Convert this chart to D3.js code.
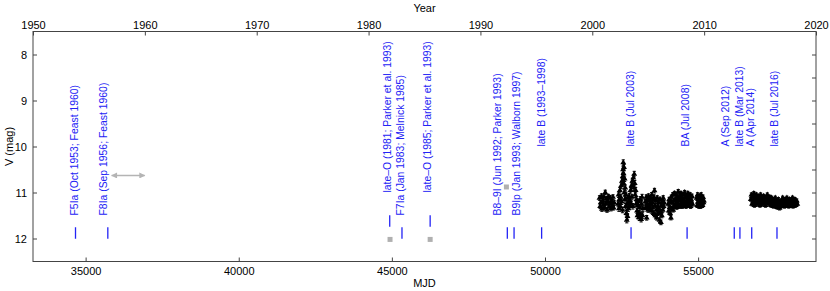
<!DOCTYPE html>
<html>
<head>
<meta charset="utf-8">
<script src="https://cdn.jsdelivr.net/npm/d3@7"></script>
<style>
  body { margin: 0; background: #fff; }
  text { font-family: "Liberation Sans", Arial, sans-serif; }
</style>
</head>
<body>
<div id="chart"></div>
<script>
// Light curve with spectral-type epochs

// spectral classifications: epoch (MJD), label, where the label sits (MJD, V)
const specMjd = [34670, 35725, 44930, 45330, 46250, 48770, 48990, 49890, 52810, 54640, 56180, 56365, 56750, 57575];
const specLabel = [
    'F5Ia (Oct 1953; Feast 1960)',
    'F8Ia (Sep 1956; Feast 1960)',
    'late\u2013O (1981; Parker et al. 1993)',
    'F7Ia (Jan 1983; Melnick 1985)',
    'late\u2013O (1985; Parker et al. 1993)',
    'B8\u20139I (Jun 1992; Parker 1993)',
    'B9Ip (Jan 1993; Walborn 1997)',
    'late B (1993\u20131998)',
    'late B (Jul 2003)',
    'BA (Jul 2008)',
    'A (Sep 2012)',
    'late B (Mar 2013)',
    'A (Apr 2014)',
    'late B (Jul 2016)'
];
const specLabelMjd = [34782, 35728, 44999, 45436, 46326, 48586, 49206, 50021, 52936, 54749, 56053, 56491, 56869, 57642];
const specLabelV = [11.5, 11.5, 11.0, 11.5, 11.0, 11.5, 11.5, 10.0, 10.0, 10.0, 10.0, 10.0, 10.0, 10.0];
const specTickV = [11.88, 11.88, 11.62, 11.88, 11.62, 11.88, 11.88, 11.88, 11.88, 11.88, 11.88, 11.88, 11.88, 11.88];

// old photographic / photoelectric magnitudes (grey squares)
const oldMjd = [44940, 46250, 48740];
const oldV = [12.02, 12.02, 10.88];

// grey range arrow
const arrowMjd = [35850, 36930];
const arrowV = 10.63;

// photometry blocks [MJD, V]
const phot1 = [
    [51780, 11.12], [51800, 11.30], [51820, 11.22], [51845, 11.08], [51860, 11.36], [51885, 11.18],
    [51905, 11.27], [51925, 11.10], [51945, 11.33], [51968, 11.00], [51985, 11.24], [52005, 11.14],
    [52025, 11.38], [52050, 11.20], [52070, 11.09], [52090, 11.31], [52110, 11.25], [52135, 11.12],
    [52155, 11.35], [52175, 11.19], [52200, 11.28], [52220, 11.10], [52240, 11.33], [52260, 11.22]
];
const phot2 = [
    [52385, 11.25], [52400, 11.05], [52415, 11.35], [52430, 11.15], [52445, 10.95], [52460, 11.30],
    [52475, 11.10], [52490, 10.85], [52505, 11.20], [52515, 10.75], [52530, 11.38], [52540, 10.65],
    [52550, 10.50], [52556, 10.35], [52562, 10.58], [52570, 10.80], [52580, 10.45], [52590, 11.00],
    [52600, 10.70], [52610, 11.15], [52620, 10.90], [52632, 11.30], [52645, 11.05], [52658, 11.45],
    [52670, 11.60], [52682, 11.25], [52695, 11.52], [52708, 11.12], [52720, 11.35], [52735, 11.20],
    [52750, 11.08], [52765, 11.30], [52780, 11.18], [52795, 10.95], [52810, 11.25], [52825, 10.85],
    [52840, 11.10], [52855, 10.75], [52870, 11.30], [52885, 10.68], [52900, 10.90], [52915, 10.60],
    [52930, 10.80], [52945, 11.05], [52960, 10.95], [52975, 11.25], [52990, 11.15], [53005, 11.40],
    [53020, 11.50], [53035, 11.28], [53050, 11.20], [53065, 11.45], [53080, 11.55], [53095, 11.32],
    [53110, 11.15], [53125, 11.48], [53140, 11.58], [53155, 11.25], [53170, 11.10], [53185, 11.50],
    [53197, 11.35]
];
const phot3 = [
    [53275, 11.20], [53290, 11.32], [53305, 11.10], [53320, 11.55], [53335, 11.25], [53350, 11.15],
    [53365, 11.38], [53380, 11.08], [53395, 11.28], [53410, 11.18], [53425, 11.35], [53440, 11.12],
    [53455, 11.25], [53470, 11.40], [53485, 11.05], [53500, 11.22], [53515, 11.33], [53530, 11.15],
    [53545, 11.45], [53560, 11.10], [53575, 10.96], [53590, 11.28], [53605, 11.50], [53620, 11.18],
    [53635, 11.38], [53650, 11.55], [53665, 11.12], [53680, 11.30], [53695, 11.45], [53710, 11.22],
    [53725, 11.35], [53740, 11.60], [53755, 11.15], [53770, 11.42], [53785, 11.65], [53800, 11.28],
    [53815, 11.50], [53830, 11.20], [53845, 11.38], [53860, 11.12], [53875, 11.30], [53890, 11.22]
];
const phot4 = [
    [54025, 11.25], [54040, 11.40], [54055, 11.15], [54070, 11.32], [54085, 11.45], [54100, 11.20],
    [54112, 11.55], [54125, 11.10], [54140, 11.35], [54155, 11.22], [54170, 11.05], [54185, 11.38],
    [54200, 11.18], [54215, 11.28], [54230, 11.02], [54245, 11.30], [54260, 11.15], [54275, 11.25],
    [54290, 11.05], [54305, 11.32], [54320, 11.12], [54335, 11.22], [54350, 10.98], [54365, 11.28],
    [54380, 11.15], [54395, 11.08], [54410, 11.30], [54425, 11.18], [54440, 11.02], [54455, 11.25],
    [54470, 11.12], [54485, 11.30], [54500, 11.05], [54515, 11.20], [54530, 11.15], [54545, 11.28],
    [54560, 11.00], [54575, 11.22], [54590, 11.10], [54605, 11.30], [54620, 11.08], [54635, 11.18],
    [54650, 11.25], [54665, 11.02], [54680, 11.15], [54695, 11.28], [54710, 11.10], [54725, 11.20],
    [54740, 11.05], [54755, 11.30], [54770, 11.15], [54785, 11.22], [54800, 11.08], [54815, 11.25],
    [54950, 11.12], [54965, 11.28], [54980, 11.05], [54995, 11.20], [55010, 11.15], [55025, 11.30],
    [55040, 11.08], [55055, 11.22], [55070, 11.12], [55085, 11.30], [55100, 11.05], [55115, 11.25],
    [55130, 11.15], [55145, 11.28], [55160, 11.10], [55175, 11.22], [55190, 11.18]
];
const phot5 = [
    [56720, 11.15], [56740, 11.05], [56760, 11.25], [56780, 11.10], [56800, 11.20], [56820, 11.02],
    [56840, 11.28], [56860, 11.12], [56880, 11.18], [56900, 11.05], [56920, 11.25], [56940, 11.15],
    [56960, 11.08], [56980, 11.22], [57000, 11.12], [57020, 11.28], [57040, 11.05], [57060, 11.18],
    [57080, 11.10], [57100, 11.25], [57120, 11.15], [57140, 11.08], [57160, 11.22], [57180, 11.12],
    [57200, 11.28], [57220, 11.10], [57240, 11.18], [57260, 11.05], [57280, 11.22], [57300, 11.15],
    [57320, 11.25], [57340, 11.10], [57360, 11.20], [57380, 11.28], [57400, 11.12], [57420, 11.22],
    [57440, 11.15], [57460, 11.30], [57480, 11.18], [57500, 11.25], [57520, 11.12], [57540, 11.28],
    [57560, 11.20], [57580, 11.32], [57600, 11.22], [57620, 11.15], [57640, 11.30], [57660, 11.34],
    [57680, 11.22], [57700, 11.30], [57720, 11.18], [57740, 11.28], [57760, 11.12], [57780, 11.25],
    [57800, 11.18], [57820, 11.30], [57840, 11.15], [57860, 11.22], [57880, 11.28], [57900, 11.12],
    [57920, 11.25], [57940, 11.20], [57960, 11.30], [57980, 11.15], [58000, 11.22], [58020, 11.28],
    [58040, 11.18], [58060, 11.25], [58080, 11.12], [58100, 11.30], [58120, 11.20], [58140, 11.25],
    [58160, 11.15], [58180, 11.28], [58200, 11.22], [58220, 11.18], [58238, 11.25]
];
const photBlocks = [phot1, phot2, phot3, phot4, phot5];
const photErr = [0.05, 0.06, 0.05, 0.045, 0.04];

const mjdTicks = [35000, 40000, 45000, 50000, 55000];
const yearTicks = [1950, 1960, 1970, 1980, 1990, 2000, 2010, 2020];
const magTicks = [8, 9, 10, 11, 12];
const magMinorTicks = [8, 8.5, 9, 9.5, 10, 10.5, 11, 11.5, 12];

const W = 830, H = 291;
const margin = { left: 33, right: 14, top: 31.5, bottom: 29.5 };
const blue = '#2323f5';
const frameColor = '#444';

const svg = d3.select('#chart').append('svg')
    .attr('width', W)
    .attr('height', H);

// MJD 33282 = 1950.0, MJD 58849 = 2020.0
const x = d3.scaleLinear().domain([33282, 58849]).range([margin.left, W - margin.right]);
const xYear = d3.scaleLinear().domain([1950, 2020]).range([margin.left, W - margin.right]);
const y = d3.scaleLinear().domain([7.5, 12.5]).range([margin.top, H - margin.bottom]);

svg.append('clipPath').attr('id', 'clip')
    .append('rect')
    .attr('x', margin.left).attr('y', margin.top)
    .attr('width', W - margin.left - margin.right)
    .attr('height', H - margin.top - margin.bottom);

// axes
function styleAxis(g) {
    g.select('.domain').remove();
    g.selectAll('.tick line').attr('stroke', frameColor);
    g.selectAll('.tick text').attr('fill', '#000').style('font-size', '11px')
        .style('font-family', '"Liberation Sans", Arial, sans-serif');
}

svg.append('g')
    .attr('transform', `translate(0,${H - margin.bottom})`)
    .call(d3.axisBottom(x).tickValues(mjdTicks).tickSize(-4).tickPadding(6).tickFormat(d3.format('d')))
    .call(styleAxis);

svg.append('g')
    .attr('transform', `translate(0,${margin.top})`)
    .call(d3.axisTop(xYear).tickValues(yearTicks).tickSize(-4).tickPadding(3).tickFormat(d3.format('d')))
    .call(styleAxis);

svg.append('g')
    .attr('transform', `translate(${margin.left},0)`)
    .call(d3.axisLeft(y).tickValues(magTicks).tickSize(-4).tickPadding(6).tickFormat(d3.format('d')))
    .call(styleAxis);

svg.append('g')
    .attr('transform', `translate(${W - margin.right},0)`)
    .call(d3.axisRight(y).tickValues(magMinorTicks).tickSize(-4).tickFormat(''))
    .call(styleAxis);

svg.append('rect')
    .attr('x', margin.left).attr('y', margin.top)
    .attr('width', W - margin.left - margin.right)
    .attr('height', H - margin.top - margin.bottom)
    .attr('fill', 'none')
    .attr('stroke', frameColor)
    .attr('stroke-width', 1);

// axis titles
svg.append('text')
    .attr('x', (margin.left + W - margin.right) / 2).attr('y', 12)
    .attr('text-anchor', 'middle').style('font-size', '11px')
    .text('Year');
svg.append('text')
    .attr('x', (margin.left + W - margin.right) / 2).attr('y', 287)
    .attr('text-anchor', 'middle').style('font-size', '11px')
    .text('MJD');
svg.append('text')
    .attr('transform', `translate(13,${(margin.top + H - margin.bottom) / 2}) rotate(-90)`)
    .attr('text-anchor', 'middle').style('font-size', '11px')
    .text('V (mag)');

const plot = svg.append('g').attr('clip-path', 'url(#clip)');

// grey range arrow
const defs = svg.append('defs');
defs.append('marker')
    .attr('id', 'ahead')
    .attr('viewBox', '0 0 10 10')
    .attr('refX', 9).attr('refY', 5)
    .attr('markerWidth', 5).attr('markerHeight', 4)
    .attr('markerUnits', 'strokeWidth')
    .attr('orient', 'auto-start-reverse')
    .append('path')
    .attr('d', 'M0,0 L10,5 L0,10 Z')
    .attr('fill', '#b4b4b4');

plot.append('line')
    .attr('x1', x(arrowMjd[0])).attr('x2', x(arrowMjd[1]))
    .attr('y1', y(arrowV)).attr('y2', y(arrowV))
    .attr('stroke', '#b4b4b4')
    .attr('stroke-width', 1.5)
    .attr('marker-start', 'url(#ahead)')
    .attr('marker-end', 'url(#ahead)');

// grey squares
plot.selectAll('.old')
    .data(oldMjd)
    .enter().append('rect')
    .attr('class', 'old')
    .attr('x', d => x(d) - 2.5)
    .attr('y', (d, i) => y(oldV[i]) - 2.5)
    .attr('width', 5).attr('height', 5)
    .attr('fill', '#b0b0b0');

// spectral type ticks and labels
const spec = specMjd.map((m, i) => ({
    mjd: m, label: specLabel[i], labelMjd: specLabelMjd[i], labelV: specLabelV[i], tickV: specTickV[i]
}));

plot.selectAll('.spec-tick')
    .data(spec)
    .enter().append('line')
    .attr('class', 'spec-tick')
    .attr('x1', d => x(d.mjd)).attr('x2', d => x(d.mjd))
    .attr('y1', d => y(d.tickV - 0.125)).attr('y2', d => y(d.tickV + 0.125))
    .attr('stroke', blue)
    .attr('stroke-width', 1.3);

plot.selectAll('.spec-label')
    .data(spec)
    .enter().append('text')
    .attr('class', 'spec-label')
    .attr('transform', d => `translate(${x(d.labelMjd) - 1},${y(d.labelV)}) rotate(-90)`)
    .attr('fill', blue)
    .style('font-size', '10.4px')
    .text(d => d.label);

// photometry with error bars
const phot = [];
photBlocks.forEach((b, bi) => b.forEach(p => phot.push({ mjd: p[0], v: p[1], err: photErr[bi] })));

const pts = plot.append('g').selectAll('.pt')
    .data(phot)
    .enter().append('g')
    .attr('class', 'pt')
    .attr('transform', d => `translate(${x(d.mjd)},${y(d.v)})`);

pts.append('path')
    .attr('d', d => {
        const e = y(d.v + d.err) - y(d.v);
        return `M0,${-e}V${e}M-1.6,${-e}H1.6M-1.6,${e}H1.6`;
    })
    .attr('stroke', '#000')
    .attr('stroke-width', 1)
    .attr('fill', 'none');

pts.append('path')
    .attr('d', d3.symbol().type(d3.symbolTriangle).size(15))
    .attr('fill', '#000');
</script>
</body>
</html>
